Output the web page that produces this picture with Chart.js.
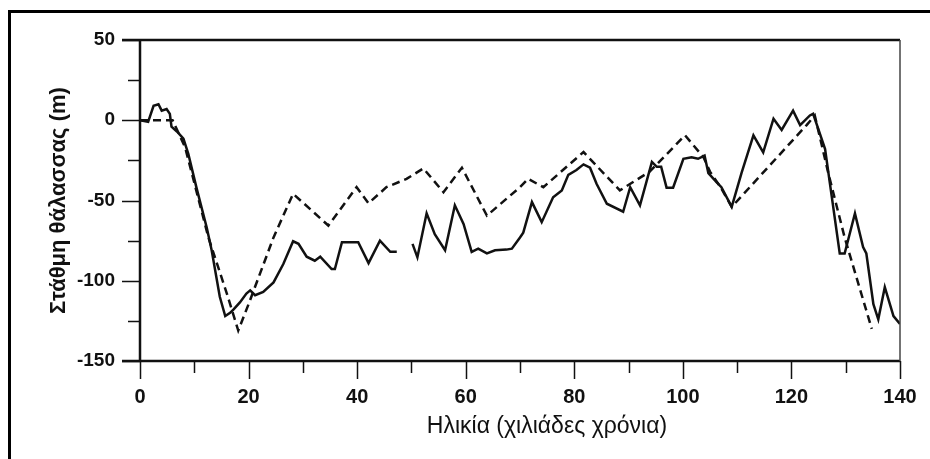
<!DOCTYPE html>
<html lang="el">
<head>
<meta charset="utf-8">
<title>Στάθμη θάλασσας</title>
<script src="https://cdn.jsdelivr.net/npm/chart.js@4.4.1/dist/chart.umd.min.js"></script>
<style>
  html, body { margin: 0; padding: 0; background: #fff; }
  canvas { display: block; }
</style>
</head>
<body>
<canvas id="seaChart" width="930" height="459"></canvas>
<script>
// sea-level record: age in thousands of years, level in metres
const recordAges = [0, 1.5, 2.5, 3.4, 4, 4.9, 5.5, 5.8, 6.8, 8, 8.9, 10.4, 12.3, 13.2, 14.7, 15.7, 16.6, 17.2, 18.4, 19.6,
  20.3, 21.2, 22.7, 24.6, 26.4, 28.2, 29.2, 30.7, 32.2, 33.2, 35.3, 35.9, 37.2, 40.2, 42.1, 44.2, 46.1, 47.3,
  48.7,
  50.2, 51.1, 52.8, 54.3, 56.2, 58, 59.6, 61.1, 62.3, 63.9, 65.4, 67.5, 68.5, 70, 70.6, 72.2, 74, 76.1, 77.7, 78.9,
  80.4, 81.7, 82.9, 84.1, 86, 89, 90.3, 92.1, 94.3, 95.2, 96, 97, 98.2, 100.1, 101.6, 102.8, 104, 104.7, 106.2,
  107.1, 109, 110.8, 113, 114.8, 116.7, 118.2, 120.3, 121.6, 123.4, 124, 126.2, 127.1, 128.9, 129.8, 131.7, 133.2,
  133.8, 135.1, 136, 137.2, 138.8, 140];
const recordLevels = [0, -1, 9, 10, 6, 7, 4, -4, -7, -11.5, -21, -42, -67, -81, -110, -122, -120, -118, -113.5, -108,
  -106, -109, -107, -101, -89.6, -75.4, -77, -85, -87.5, -85, -92.7, -92.7, -76, -76, -89, -75, -82, -82,
  null,
  -77, -85.4, -58, -71, -81, -53, -64.6, -82, -80, -83, -81, -80.6, -80, -73, -70, -51, -63.5, -48, -43.7, -34,
  -31, -27.5, -29.6, -39.6, -52, -57, -41.7, -53, -26, -29, -29, -42, -42, -24, -23, -24, -22, -33, -38.5,
  -41.7, -54, -33, -9.4, -20, 1, -6, 6, -3, 3, 4, -18, -39.6, -83, -83, -58, -79,
  -83, -114.6, -124, -104, -122, -127];

// model curve (dashed)
const modelAges = [0, 6, 8.3, 12.6, 16, 18.1, 20, 24.6, 28.2, 34.7, 36.8, 39.9, 42.1, 45.4, 49.1, 52.2, 55.9, 59.3,
  63.9, 70, 71.5, 74.3, 81.7, 88.4, 93.9, 100.4, 103.8, 105, 107, 109, 122.8, 124.3, 126.8, 129.8, 134.8];
const modelLevels = [0, 0, -16.7, -73, -108, -131, -114.6, -73, -45.8, -65.6, -56, -41.7, -51.7, -41.7, -36.5, -30, -44.8, -29.6,
  -59.4, -41.7, -36.5, -41.7, -19.8, -43.7, -32, -9.4, -23, -32, -42, -54, -3, 3, -33, -73, -130];

const xRange = [0, 140];
const yRange = [-150, 50];

const toPoints = (xs, ys) => xs.map((x, i) => ({ x: x, y: ys[i] }));

const INK = '#111';
const FONT = "'Liberation Sans', Arial, Helvetica, sans-serif";

// frame, outer border, tick marks and the x title
const framePlugin = {
  id: 'frame',
  beforeDraw(chart) {
    const ctx = chart.ctx;
    ctx.save();
    ctx.strokeStyle = '#000';
    ctx.lineWidth = 3;
    ctx.beginPath();
    ctx.moveTo(9.5, chart.height);
    ctx.lineTo(9.5, 11.5);
    ctx.lineTo(chart.width, 11.5);
    ctx.stroke();
    ctx.restore();
  },
  afterDraw(chart) {
    const { ctx, chartArea: a } = chart;
    const xs = chart.scales.x, ys = chart.scales.y;
    ctx.save();
    ctx.strokeStyle = INK;
    ctx.lineWidth = 2.5;
    ctx.beginPath();
    ctx.moveTo(a.left, a.top);
    ctx.lineTo(a.left, a.bottom);
    ctx.lineTo(a.right, a.bottom);
    ctx.moveTo(a.left - 18, a.top);
    ctx.lineTo(a.right, a.top);
    ctx.moveTo(a.left - 18, a.bottom);
    ctx.lineTo(a.left, a.bottom);
    ctx.stroke();
    ctx.strokeStyle = '#444';
    ctx.lineWidth = 1.5;
    ctx.beginPath();
    ctx.moveTo(a.right, a.top);
    ctx.lineTo(a.right, a.bottom);
    ctx.stroke();

    ctx.strokeStyle = INK;
    ctx.lineWidth = 1.5;
    ctx.beginPath();
    xs.ticks.forEach(t => {
      const px = Math.round(xs.getPixelForValue(t.value)) + 0.5;
      const len = t.value % 20 === 0 ? 18 : 12;
      ctx.moveTo(px, a.bottom);
      ctx.lineTo(px, a.bottom + len);
    });
    ys.ticks.forEach(t => {
      const py = Math.round(ys.getPixelForValue(t.value)) + 0.5;
      const len = t.value % 50 === 0 ? 18 : 12;
      ctx.moveTo(a.left - len, py);
      ctx.lineTo(a.left, py);
    });
    ctx.stroke();

    ctx.fillStyle = INK;
    ctx.font = '23px ' + FONT;
    ctx.textAlign = 'center';
    ctx.textBaseline = 'alphabetic';
    ctx.fillText('Ηλικία (χιλιάδες χρόνια)', (a.left + a.right) / 2 + 27, 433);
    ctx.restore();
  }
};

new Chart(document.getElementById('seaChart'), {
  type: 'line',
  data: {
    datasets: [
      {
        label: 'Καταγραφή',
        data: toPoints(recordAges, recordLevels),
        borderColor: INK,
        borderWidth: 2.5,
        pointRadius: 0,
        tension: 0,
        spanGaps: false
      },
      {
        label: 'Μοντέλο',
        data: toPoints(modelAges, modelLevels),
        borderColor: INK,
        borderWidth: 2.5,
        borderDash: [8, 5],
        pointRadius: 0,
        tension: 0
      }
    ]
  },
  options: {
    responsive: false,
    animation: false,
    devicePixelRatio: 1,
    layout: { padding: { top: 40, right: 30, left: 0, bottom: 0 } },
    plugins: {
      legend: { display: false },
      tooltip: { enabled: false }
    },
    scales: {
      x: {
        type: 'linear',
        min: xRange[0],
        max: xRange[1],
        afterFit(scale) { scale.height = 98; },
        border: { display: false },
        grid: { drawOnChartArea: false, drawTicks: true, tickLength: 18, tickColor: 'rgba(0,0,0,0)' },
        ticks: {
          stepSize: 10,
          autoSkip: false,
          maxRotation: 0,
          padding: 6,
          color: INK,
          font: { family: FONT, size: 20, weight: 'bold' },
          callback: v => (v % 20 === 0 ? String(v) : '')
        }
      },
      y: {
        min: yRange[0],
        max: yRange[1],
        afterFit(scale) { scale.width = 140; },
        border: { display: false },
        grid: { drawOnChartArea: false, drawTicks: true, tickLength: 18, tickColor: 'rgba(0,0,0,0)' },
        ticks: {
          stepSize: 25,
          autoSkip: false,
          padding: 7,
          color: INK,
          font: { family: FONT, size: 19, weight: 'bold' },
          callback: v => (v % 50 === 0 ? String(v) : '')
        },
        title: {
          display: true,
          text: 'Στάθμη θάλασσας (m)',
          color: INK,
          font: { family: FONT, size: 22, weight: 'bold' },
          padding: { top: 46, bottom: 0 }
        }
      }
    }
  },
  plugins: [framePlugin]
});
</script>
</body>
</html>
